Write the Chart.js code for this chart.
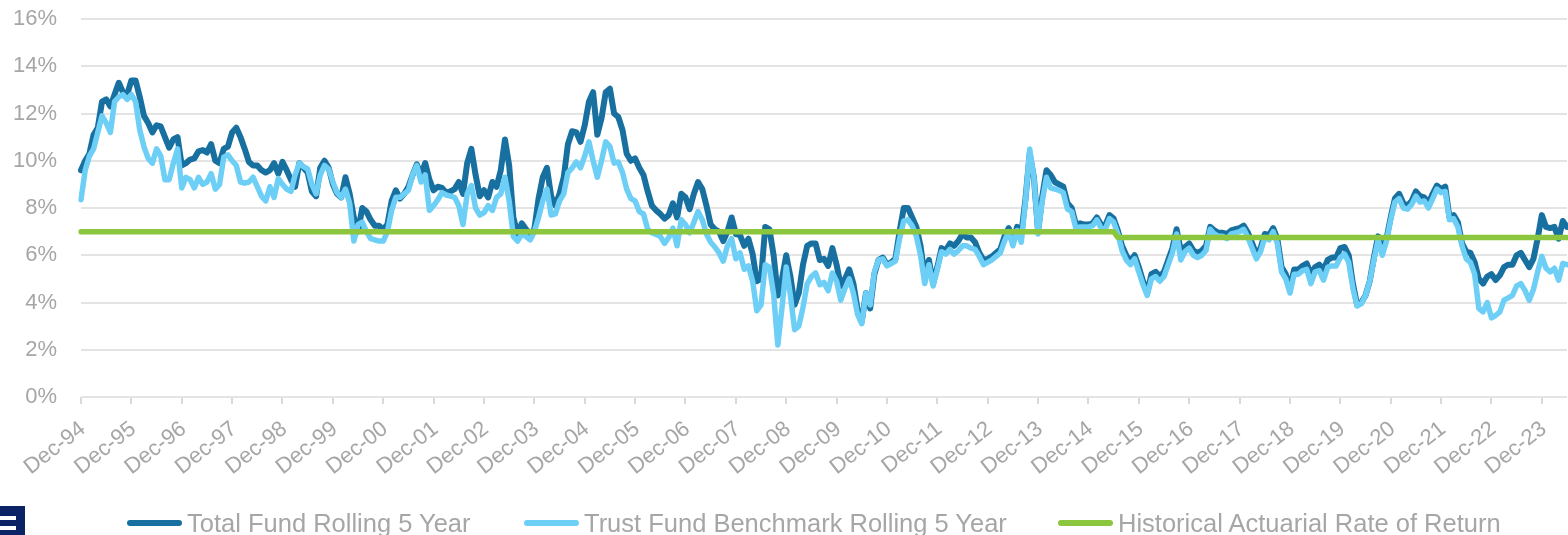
<!DOCTYPE html>
<html>
<head>
<meta charset="utf-8">
<script src="https://cdn.jsdelivr.net/npm/chart.js@4.4.1/dist/chart.umd.min.js"></script>
<style>
html,body{margin:0;padding:0;background:#fff;overflow:hidden;}
#wrap{position:relative;width:1568px;height:535px;overflow:hidden;}
canvas{position:absolute;left:0;top:0;}
.lg-line{position:absolute;height:6px;border-radius:3px;top:520px;}
.lg-text{position:absolute;top:511px;font-family:'Liberation Sans',Arial,sans-serif;font-size:25.5px;line-height:25px;color:#a6a6a6;white-space:nowrap;}
.logo{position:absolute;left:0;top:506px;width:25px;height:29px;background:#0b2265;}
.slit{position:absolute;left:0;width:16px;height:4px;background:#fff;}
</style>
</head>
<body>
<div id="wrap">
<canvas id="c" width="1568" height="535"></canvas>
<div class="logo"><div class="slit" style="top:10px"></div><div class="slit" style="top:20px"></div></div>
<div id="legend"></div>
</div>
<script>
// ---- Data (monthly, Dec-94 .. Jun-24) ----
const startYear = 1994; // first label Dec-94
const monthNames = ['Jan','Feb','Mar','Apr','May','Jun','Jul','Aug','Sep','Oct','Nov','Dec'];

const totalFund = [
  9.6,10.0,10.3,11.1,11.4,12.5,12.6,12.3,12.8,13.3,12.9,12.8,
  13.4,13.4,12.7,11.9,11.6,11.2,11.5,11.45,11.0,10.55,10.9,11.0,
  9.8,9.9,10.05,10.1,10.4,10.45,10.35,10.7,10.0,9.9,10.5,10.6,
  11.2,11.4,11.0,10.5,9.95,9.8,9.8,9.6,9.5,9.6,9.9,9.45,
  9.95,9.6,9.2,8.9,9.9,9.7,9.5,8.7,8.5,9.7,10.0,9.7,
  9.0,8.6,8.45,9.3,8.6,7.6,7.0,8.0,7.85,7.5,7.25,7.25,
  7.1,7.3,8.3,8.75,8.4,8.6,8.9,9.4,9.85,9.4,9.9,9.2,
  8.75,8.9,8.85,8.65,8.7,8.8,9.1,8.6,9.9,10.5,9.4,8.5,
  8.75,8.45,9.1,8.9,9.6,10.9,9.8,7.6,6.9,7.35,7.1,6.9,
  7.1,8.4,9.3,9.7,8.5,8.1,8.6,9.3,10.7,11.25,11.2,10.8,
  11.5,12.5,12.9,11.1,11.8,12.9,13.05,12.0,11.85,11.3,10.3,10.0,
  10.1,9.7,9.4,8.7,8.1,7.9,7.75,7.55,7.7,8.2,7.6,8.6,
  8.45,7.95,8.6,9.1,8.8,8.1,7.3,7.1,7.0,6.6,7.0,7.6,
  6.9,6.85,6.4,6.7,6.05,4.9,5.0,7.2,7.1,6.0,4.3,5.0,
  6.0,5.1,3.9,4.4,5.6,6.4,6.5,6.5,5.8,5.85,5.55,6.3,
  5.6,4.7,5.0,5.4,4.8,3.7,3.2,4.4,3.75,5.2,5.8,5.9,
  5.6,5.7,5.85,7.0,8.0,8.0,7.6,7.2,6.4,5.1,5.8,4.8,
  5.5,6.3,6.2,6.5,6.4,6.6,6.9,6.75,6.75,6.55,6.1,5.8,
  5.85,5.95,6.1,6.25,6.8,7.15,6.6,7.2,6.9,8.4,10.3,9.3,
  7.0,8.5,9.6,9.4,9.1,9.0,8.9,8.2,8.0,7.3,7.35,7.3,
  7.3,7.35,7.6,7.3,7.25,7.7,7.55,7.05,6.4,6.0,5.75,6.0,
  5.5,4.9,4.4,5.2,5.3,5.1,5.3,5.8,6.3,7.1,6.2,6.35,
  6.5,6.2,6.1,6.2,6.4,7.2,7.05,6.95,6.95,6.9,7.05,7.1,
  7.15,7.25,6.95,6.5,6.05,6.3,6.9,6.85,7.15,6.7,5.5,5.2,
  4.6,5.4,5.4,5.55,5.65,5.2,5.5,5.6,5.4,5.8,5.9,5.9,
  6.3,6.35,6.0,4.8,3.9,4.0,4.3,4.9,5.9,6.8,6.2,6.7,
  7.6,8.4,8.6,8.2,8.1,8.3,8.7,8.5,8.45,8.2,8.6,8.95,
  8.8,8.9,7.6,7.7,7.4,6.5,6.15,6.1,5.7,5.0,4.8,5.1,
  5.2,4.95,5.15,5.5,5.6,5.6,6.0,6.1,5.8,5.5,5.85,6.7,
  7.7,7.2,7.15,7.2,6.7,7.45,7.2
];

const trustBenchmark = [
  8.35,9.6,10.2,10.5,11.2,11.9,11.6,11.2,12.5,12.7,12.8,12.6,
  12.8,12.5,11.3,10.6,10.1,9.9,10.5,10.2,9.2,9.2,9.9,10.5,
  8.85,9.3,9.2,8.85,9.3,9.0,9.1,9.45,8.8,9.0,10.15,10.25,
  10.0,9.8,9.1,9.05,9.1,9.3,8.9,8.5,8.3,8.9,8.45,9.25,
  9.0,8.8,8.7,9.4,9.9,9.75,9.65,9.0,8.6,9.4,9.8,9.65,
  9.1,8.65,8.45,8.8,8.2,6.6,7.3,7.4,7.0,6.7,6.65,6.6,
  6.6,7.0,7.9,8.45,8.45,8.6,8.75,9.4,9.8,9.1,9.4,7.9,
  8.1,8.35,8.65,8.55,8.5,8.45,8.1,7.3,8.6,8.95,8.0,7.7,
  7.8,8.1,7.9,8.45,8.6,9.3,8.3,6.8,6.6,6.9,6.8,6.65,
  7.0,7.6,8.3,8.8,7.7,7.75,8.3,8.6,9.5,9.7,9.95,9.7,
  10.2,10.8,10.0,9.3,10.0,10.8,10.6,9.9,9.95,9.5,8.8,8.4,
  8.3,7.85,7.75,7.1,6.95,6.88,6.8,6.5,6.75,7.15,6.4,7.5,
  7.3,6.95,7.4,7.85,7.5,6.9,6.55,6.35,6.1,5.75,6.4,6.7,
  5.85,6.1,5.4,5.55,4.9,3.65,3.9,5.6,5.5,4.35,2.2,3.8,
  5.5,4.3,2.85,3.0,3.8,4.8,5.1,5.25,4.75,4.85,4.5,5.25,
  4.9,4.1,4.6,5.0,4.4,3.5,3.1,4.4,3.9,5.3,5.8,5.85,
  5.55,5.65,5.75,6.7,7.45,7.5,7.25,6.8,6.0,4.8,5.6,4.7,
  5.4,6.15,6.05,6.25,6.05,6.2,6.4,6.4,6.3,6.25,5.95,5.6,
  5.7,5.8,5.95,6.1,6.6,7.0,6.4,7.05,6.55,8.3,10.5,9.3,
  6.9,8.3,9.3,8.85,8.8,8.75,8.65,7.95,7.85,7.15,7.2,7.2,
  7.2,7.25,7.5,7.15,7.1,7.55,7.4,6.9,6.2,5.8,5.6,5.85,
  5.3,4.75,4.3,5.0,5.1,4.9,5.1,5.6,6.1,6.9,5.8,6.15,
  6.3,6.0,5.9,6.0,6.2,7.1,6.9,6.8,6.8,6.7,6.9,6.95,
  7.0,7.1,6.75,6.3,5.85,6.15,6.75,6.65,7.0,6.5,5.3,5.0,
  4.4,5.2,5.2,5.35,5.4,4.8,5.3,5.35,4.95,5.5,5.55,5.55,
  5.9,6.05,5.7,4.6,3.85,3.95,4.3,4.9,5.8,6.65,6.0,6.6,
  7.5,8.25,8.4,8.0,7.95,8.15,8.5,8.25,8.3,8.0,8.4,8.8,
  8.65,8.7,7.5,7.55,7.2,6.4,5.85,5.7,5.2,3.75,3.6,4.0,
  3.35,3.45,3.6,4.1,4.2,4.3,4.7,4.8,4.5,4.1,4.55,5.3,
  5.95,5.45,5.3,5.45,4.95,5.65,5.6
];

// Historical actuarial rate: 7.0% through Jun-15, 6.75% from Jul-15
const actuarialRate = [
  {x:'Dec-94', y:7.0},
  {x:'Jun-15', y:7.0},
  {x:'Jul-15', y:6.75},
  {x:'Jun-24', y:6.75}
];

const yTicks = [0,2,4,6,8,10,12,14,16];

// Month category labels
const labels = [];
for (let i = 0; i < totalFund.length; i++) {
  const mi = (11 + i) % 12;
  const yr = startYear + Math.floor((11 + i) / 12);
  labels.push(monthNames[mi] + '-' + String(yr % 100).padStart(2,'0'));
}

const seriesNames = ['Total Fund Rolling 5 Year','Trust Fund Benchmark Rolling 5 Year','Historical Actuarial Rate of Return'];
const seriesColors = ['#17709f','#6dcff6','#8cc63f'];

const FONT = "'Liberation Sans', Arial, sans-serif";
const GRAY = '#a6a6a6';

new Chart(document.getElementById('c'), {
  type: 'line',
  data: {
    labels: labels,
    datasets: [
      {label: seriesNames[0], data: totalFund, borderColor: seriesColors[0], backgroundColor: seriesColors[0], borderWidth: 6, order: 2},
      {label: seriesNames[1], data: trustBenchmark, borderColor: seriesColors[1], backgroundColor: seriesColors[1], borderWidth: 5.5, order: 1},
      {label: seriesNames[2], data: actuarialRate, borderColor: seriesColors[2], backgroundColor: seriesColors[2], borderWidth: 5.5, order: 0}
    ]
  },
  options: {
    responsive: false,
    animation: false,
    layout: {padding: {top: 19, right: 1, bottom: 48, left: 0}},
    plugins: {legend: {display: false}, tooltip: {enabled: false}},
    elements: {
      point: {radius: 0, hoverRadius: 0},
      line: {tension: 0, borderJoinStyle: 'round', borderCapStyle: 'round', fill: false}
    },
    scales: {
      x: {
        type: 'category',
        offset: false,
        border: {display: false},
        grid: {
          drawOnChartArea: false,
          drawTicks: true,
          tickLength: 7,
          lineWidth: 2,
          color: (ctx) => (ctx.tick && ctx.tick.label) ? '#d9d9d9' : 'rgba(0,0,0,0)'
        },
        ticks: {
          autoSkip: false,
          minRotation: 38,
          maxRotation: 38,
          padding: 12,
          labelOffset: 2,
          color: GRAY,
          font: {family: FONT, size: 22},
          callback: (v, i) => labels[i].startsWith('Dec') ? labels[i] : ''
        },
        afterFit: (s) => { s.height = 90; s.paddingLeft = 0; s.paddingRight = 0; s.paddingTop = 0; s.paddingBottom = 0; }
      },
      y: {
        min: 0,
        max: 16,
        border: {display: false},
        grid: {color: '#e4e4e4', lineWidth: 2, drawTicks: false},
        afterBuildTicks: (s) => { s.ticks = yTicks.map(v => ({value: v})); },
        ticks: {
          padding: 24,
          color: GRAY,
          font: {family: FONT, size: 22},
          callback: (v) => v + '%'
        },
        afterFit: (s) => { s.width = 81; s.paddingTop = 0; s.paddingBottom = 0; s.paddingLeft = 0; s.paddingRight = 0; }
      }
    }
  }
});

// HTML legend
const legendLeft = [127, 524, 1058];
const lg = document.getElementById('legend');
seriesNames.forEach((name, i) => {
  const line = document.createElement('div');
  line.className = 'lg-line';
  line.style.left = legendLeft[i] + 'px';
  line.style.width = '55px';
  line.style.background = seriesColors[i];
  lg.appendChild(line);
  const t = document.createElement('div');
  t.className = 'lg-text';
  t.style.left = (legendLeft[i] + 60) + 'px';
  t.textContent = name;
  lg.appendChild(t);
});
</script>
</body>
</html>
